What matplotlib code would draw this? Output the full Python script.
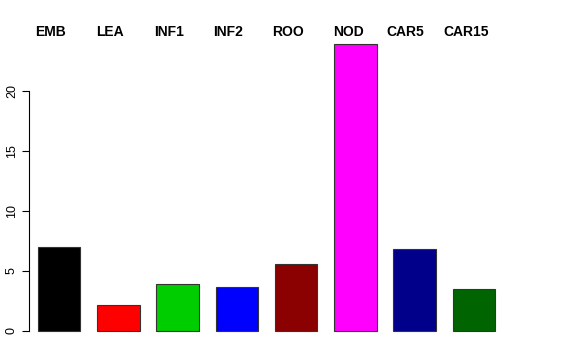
import matplotlib
matplotlib.use("Agg")
import matplotlib.pyplot as plt

# tissue labels and values
tissues = ["EMB", "LEA", "INF1", "INF2", "ROO", "NOD", "CAR5", "CAR15"]
values = [7.0, 2.15, 3.95, 3.65, 5.6, 23.9, 6.8, 3.5]
colors = ["#000000", "#FF0000", "#00CD00", "#0000FF", "#8B0000", "#FF00FF", "#00008B", "#006400"]

W, H = 576, 360
fig = plt.figure(figsize=(W / 100, H / 100), dpi=100)
plt.rcParams["font.family"] = ["Liberation Sans", "DejaVu Sans"]

# axes placed in pixel units: left spine at x=29, zero line at y=331
left_px, right_px = 29, 540
bottom_px, top_px = 331, 37
ax = fig.add_axes([left_px / W, 1 - bottom_px / H,
                   (right_px - left_px) / W, (bottom_px - top_px) / H])

# R barplot style: width 1, space 0.4 (bars 42 px wide, 59 px apart)
px_per_unit = 59.24 / 1.4
x0_px = 38 - 0.4 * px_per_unit
ax.set_xlim((left_px - x0_px) / px_per_unit, (right_px - x0_px) / px_per_unit)
ax.set_ylim(0, (bottom_px - top_px) / 12.0)

lefts = [0.4 + 1.4 * i for i in range(len(values))]
ax.bar(lefts, values, width=1.0, align="edge", color=colors,
       edgecolor="#333333", linewidth=0.8, clip_on=False)

for s in ["top", "right", "bottom"]:
    ax.spines[s].set_visible(False)
ax.spines["left"].set_bounds(0, 20)
ax.spines["left"].set_linewidth(0.8)
ax.set_xticks([])
ax.set_yticks([0, 5, 10, 15, 20])
ax.tick_params(axis="y", length=5, width=0.8, pad=3, labelsize=9)
for lab in ax.get_yticklabels():
    lab.set_rotation(90)
    lab.set_va("center")

# tissue names along the top (centres measured in pixels)
label_x = [51, 110, 169, 228, 288, 348, 405, 466]
for name, xp in zip(tissues, label_x):
    fig.text(xp / W, 1 - 32 / H, name, ha="center", va="center",
             fontsize=10, fontweight="bold")

fig.savefig("out.png", dpi=100)
